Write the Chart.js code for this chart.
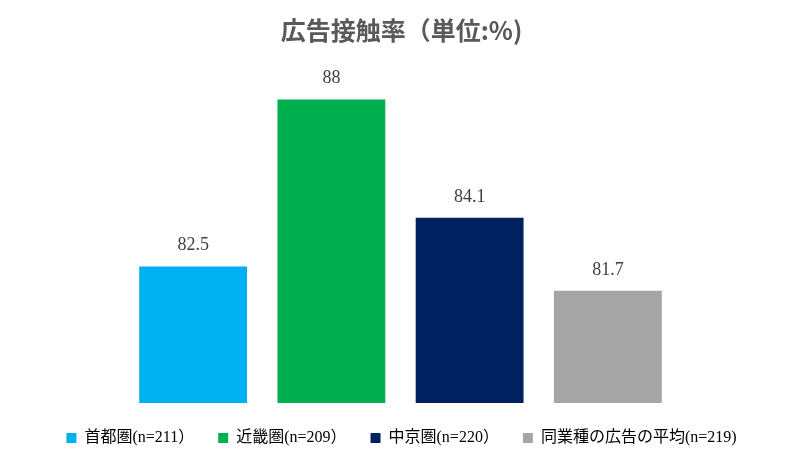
<!DOCTYPE html>
<html>
<head>
<meta charset="utf-8">
<script src="https://cdn.jsdelivr.net/npm/chart.js@4"></script>
<style>
    html, body { margin: 0; padding: 0; background: #ffffff; }
    #ChartWrapper { width: 803px; height: 468px; }
</style>
</head>
<body>
<div id="ChartWrapper"><canvas id="Chart"></canvas></div>
<script>
// данные графика
var categories = ['首都圏(n=211）', '近畿圏(n=209）', '中京圏(n=220）', '同業種の広告の平均(n=219)'];
var values = [82.5, 88, 84.1, 81.7];
var barColors = ['#00B0F0', '#00B050', '#002060', '#A5A5A5'];
var chartTitle = '広告接触率（単位:%)';

var serifFont = "'Liberation Serif', 'Noto Sans CJK JP', serif";

/**
 * подписи значений над столбцами*/
var valueLabels = {
    id: 'valueLabels',
    afterDatasetsDraw: function (chart) {
        var ctx = chart.ctx;
        var meta = chart.getDatasetMeta(0);
        ctx.save();
        ctx.font = '18px ' + serifFont;
        ctx.fillStyle = '#404040';
        ctx.textAlign = 'center';
        ctx.textBaseline = 'alphabetic';
        meta.data.forEach(function (bar, i) {
            ctx.fillText(String(values[i]), bar.x, bar.y - 16);
        });
        ctx.restore();
    }
};

var myChart = new Chart(document.getElementById('Chart'), {
    type: 'bar',
    data: {
        labels: categories,
        datasets: [{
            data: values,
            backgroundColor: barColors,
            categoryPercentage: 1,
            barPercentage: 0.78
        }]
    },
    options: {
        responsive: true,
        maintainAspectRatio: false,
        animation: false,
        layout: { padding: { top: 0, bottom: 12, left: 0, right: 0 } },
        plugins: {
            title: {
                display: true,
                text: chartTitle,
                color: '#595959',
                font: { family: "'Noto Sans CJK JP', sans-serif", size: 25, weight: 'bold' },
                padding: { top: 15, bottom: 15 }
            },
            legend: {
                position: 'bottom',
                labels: {
                    boxWidth: 10,
                    boxHeight: 10,
                    padding: 24,
                    color: '#595959',
                    font: { family: serifFont, size: 16 },
                    generateLabels: function (chart) {
                        return categories.map(function (c, i) {
                            return { text: c, fillStyle: barColors[i], strokeStyle: barColors[i], lineWidth: 0, index: i };
                        });
                    }
                }
            },
            tooltip: { enabled: false }
        },
        scales: {
            x: {
                ticks: { display: false },
                grid: { display: false },
                border: { display: false },
                afterFit: function (scale) { scale.height = 3; }
            },
            y: {
                min: 78,
                max: 89.3,
                ticks: { display: false },
                grid: { display: false },
                border: { display: false },
                afterFit: function (scale) { scale.width = 124; }
            },
            yRight: {
                position: 'right',
                display: true,
                ticks: { display: false },
                grid: { display: false },
                border: { display: false },
                afterFit: function (scale) { scale.width = 126; }
            }
        }
    },
    plugins: [valueLabels]
});
</script>
</body>
</html>
